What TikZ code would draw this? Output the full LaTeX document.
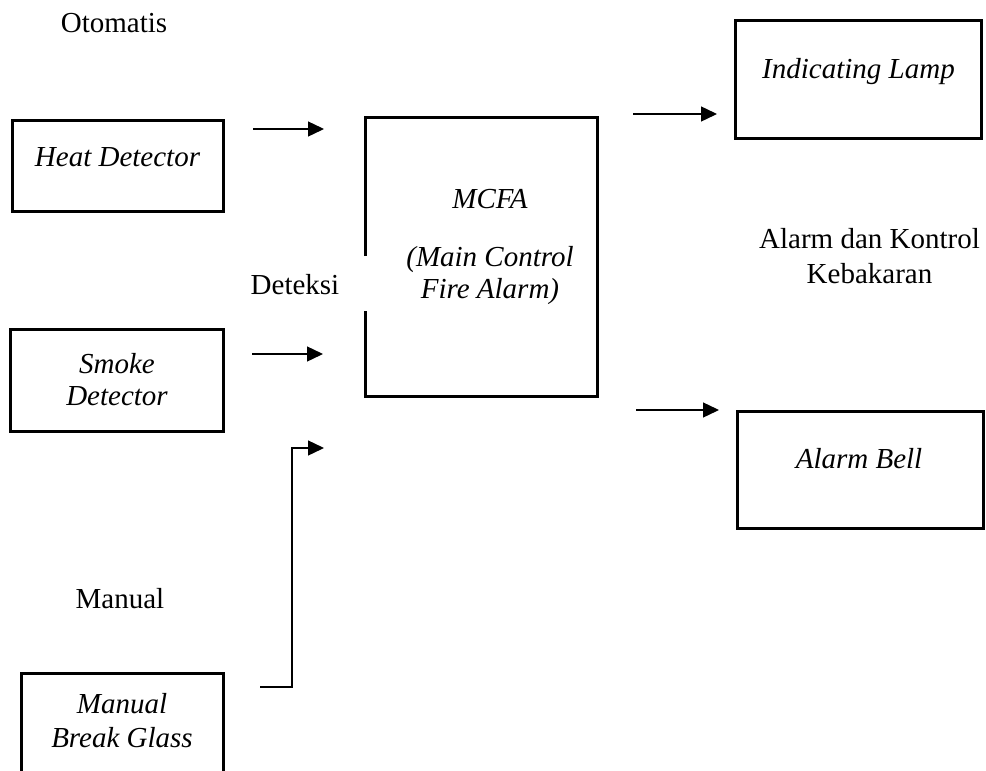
\documentclass[tikz,border=0pt]{standalone}
\usepackage{fontspec}
\setmainfont{Liberation Serif}
\usetikzlibrary{arrows.meta,calc}
\begin{document}
\begin{tikzpicture}[x=1pt,y=-1pt,
  boxline/.style={draw=black,line width=3pt},
  box/.style={boxline,inner sep=0pt,outer sep=0pt},
  arr/.style={draw=black,line width=1.4pt,-{Triangle[length=16pt,width=15pt]}},
  txt/.style={font=\fontsize{29}{34}\selectfont,inner sep=0pt,anchor=base},
  itxt/.style={txt,font=\fontsize{29}{34}\selectfont\itshape}]
\useasboundingbox (0,0) rectangle (986,771);
\clip (0,0) rectangle (986,771);
\fill[white] (0,0) rectangle (986,771);

% boxes
\node[box,minimum width=211pt,minimum height=91pt] (heat) at (117.5,165.5) {};
\node[box,minimum width=213pt,minimum height=102pt] (smoke) at (116.5,380) {};
\node[box,minimum width=202pt,minimum height=140pt] (manual) at (122,743) {};
\node[inner sep=0pt,outer sep=0pt,minimum width=232pt,minimum height=279pt] (mcfa) at (481,256.5) {};
\draw[boxline] ($(mcfa.north west)+(0,139)$) -- (mcfa.north west) -- (mcfa.north east)
  -- (mcfa.south east) -- (mcfa.south west) -- ($(mcfa.north west)+(0,194)$);
\node[box,minimum width=246pt,minimum height=118pt] (lamp) at (858,79) {};
\node[box,minimum width=246pt,minimum height=117pt] (bell) at (860,469.5) {};

% texts
\node[txt] (otomatis) at (114,32) {Otomatis};
\node[itxt] (heatt) at (117.5,166) {Heat Detector};
\node[txt] (deteksi) at (295,294) {Deteksi};
\node[itxt] (mcfa1) at (490,208) {MCFA};
\node[itxt] (mcfa2) at (490,266) {(Main Control};
\node[itxt] (mcfa3) at (490,298) {Fire Alarm)};
\node[itxt] (lampt) at (858.5,78) {Indicating Lamp};
\node[txt] (ak1) at (869.5,248) {Alarm dan Kontrol};
\node[txt] (ak2) at (869.5,283) {Kebakaran};
\node[itxt] (smoke1) at (117,373) {Smoke};
\node[itxt] (smoke2) at (117,405) {Detector};
\node[itxt] (bellt) at (859,468) {Alarm Bell};
\node[txt] (manlabel) at (120,608) {Manual};
\node[itxt] (man1) at (122,713) {Manual};
\node[itxt] (man2) at (122,747) {Break Glass};

% connectors
\coordinate (h1) at (253,129); \coordinate (h2) at (324,129);
\coordinate (s1) at (252,354); \coordinate (s2) at (323,354);
\coordinate (m1) at (260,687); \coordinate (m2) at (292,687);
\coordinate (m3) at (292,448); \coordinate (m4) at (324,448);
\coordinate (l1) at (633,114); \coordinate (l2) at (717,114);
\coordinate (b1) at (636,410); \coordinate (b2) at (719,410);
\draw[arr] (h1) -- (h2);
\draw[arr] (s1) -- (s2);
\draw[arr] (m1) -- (m2) -- (m3) -- (m4);
\draw[arr] (l1) -- (l2);
\draw[arr] (b1) -- (b2);
\end{tikzpicture}
\end{document}
